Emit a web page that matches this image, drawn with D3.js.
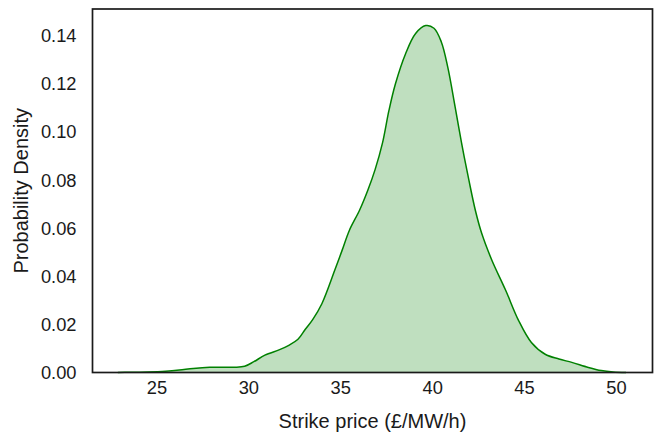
<!DOCTYPE html>
<html>
<head>
<meta charset="utf-8">
<script src="https://cdn.jsdelivr.net/npm/d3@7"></script>
<style>
  html, body { margin: 0; padding: 0; background: #fff; }
  svg { display: block; font-family: "Liberation Sans", Arial, Helvetica, sans-serif; }
</style>
</head>
<body>
<svg id="chart" width="657" height="433"></svg>
<script>
// Data (kernel density estimate of strike price)
const strikePrice = [22.9, 23.5, 24.5, 25.5, 26.25, 27.0, 27.9, 28.7, 29.25, 29.8, 30.3, 30.9, 31.7, 32.2, 32.7, 33.1, 33.5, 34.0, 34.7, 35.1, 35.5, 36.05, 36.5, 36.9, 37.3, 37.65, 38.0, 38.55, 39.1, 39.65, 40.1, 40.5, 40.85, 41.25, 41.6, 42.0, 42.35, 42.7, 43.25, 44.0, 44.7, 45.4, 46.15, 46.9, 47.6, 48.5, 49.2, 49.85, 50.55];
const density = [0, 0.0001, 0.0002, 0.0005, 0.001, 0.0017, 0.0022, 0.0022, 0.0022, 0.0026, 0.0045, 0.0072, 0.0095, 0.0113, 0.0138, 0.018, 0.022, 0.0286, 0.0425, 0.0508, 0.0592, 0.0675, 0.0758, 0.0845, 0.0955, 0.109, 0.12, 0.1325, 0.141, 0.1443, 0.1432, 0.1375, 0.127, 0.1105, 0.0955, 0.08, 0.0675, 0.0578, 0.0467, 0.0342, 0.0217, 0.0125, 0.0076, 0.0056, 0.0042, 0.0021, 0.0008, 0.0002, 0];
const xTicks = [25, 30, 35, 40, 45, 50];
const yTicks = [0, 0.02, 0.04, 0.06, 0.08, 0.10, 0.12, 0.14];
const xLabel = "Strike price (£/MW/h)";
const yLabel = "Probability Density";

(function () {
const points = strikePrice.map((x, i) => ({ x, y: density[i] }));

const svg = d3.select("#chart");
const mLeft = 92.5, mRight = 652.5, mTop = 9, mBottom = 372.5;

const x = d3.scaleLinear().domain([21.52, 51.99]).range([mLeft, mRight]);
const y = d3.scaleLinear().domain([0, 0.1512]).range([mBottom, mTop]);

const textColor = "#1a1a1a";
const curve = d3.curveCatmullRom.alpha(0.5);

// Filled area
const area = d3.area()
  .x(d => x(d.x))
  .y0(y(0))
  .y1(d => y(Math.max(0, d.y)))
  .curve(curve);
svg.append("path")
  .datum(points)
  .attr("d", area)
  .attr("fill", "rgb(0,128,0)")
  .attr("fill-opacity", 0.25)
  .attr("stroke", "none");

// Line
const line = d3.line()
  .x(d => x(d.x))
  .y(d => y(d.y))
  .curve(curve);
svg.append("path")
  .datum(points)
  .attr("d", line)
  .attr("fill", "none")
  .attr("stroke", "#008000")
  .attr("stroke-width", 1.5);

// Axes (no tick marks, seaborn white style)
const xAxis = d3.axisBottom(x).tickValues(xTicks).tickFormat(d3.format("d")).tickSize(0).tickPadding(9);
const gx = svg.append("g").attr("transform", `translate(0,${mBottom})`).call(xAxis);
gx.select(".domain").remove();
gx.selectAll("text").attr("font-size", "18.3px").attr("fill", textColor).attr("font-family", "Liberation Sans, Arial, sans-serif");

const yAxis = d3.axisLeft(y).tickValues(yTicks).tickFormat(d3.format(".2f")).tickSize(0).tickPadding(16);
const gy = svg.append("g").attr("transform", `translate(${mLeft},0)`).call(yAxis);
gy.select(".domain").remove();
gy.selectAll("text").attr("font-size", "18.3px").attr("fill", textColor).attr("font-family", "Liberation Sans, Arial, sans-serif");

// Frame
svg.append("rect")
  .attr("x", mLeft).attr("y", mTop)
  .attr("width", mRight - mLeft).attr("height", mBottom - mTop)
  .attr("fill", "none")
  .attr("stroke", textColor)
  .attr("stroke-width", 1.7);

// Axis labels
svg.append("text")
  .attr("x", (mLeft + mRight) / 2)
  .attr("y", 428)
  .attr("text-anchor", "middle")
  .attr("font-size", "20px")
  .attr("fill", textColor)
  .text(xLabel);

svg.append("text")
  .attr("transform", `translate(28,${(mTop + mBottom) / 2}) rotate(-90)`)
  .attr("text-anchor", "middle")
  .attr("font-size", "20px")
  .attr("fill", textColor)
  .text(yLabel);
})();
</script>
</body>
</html>
